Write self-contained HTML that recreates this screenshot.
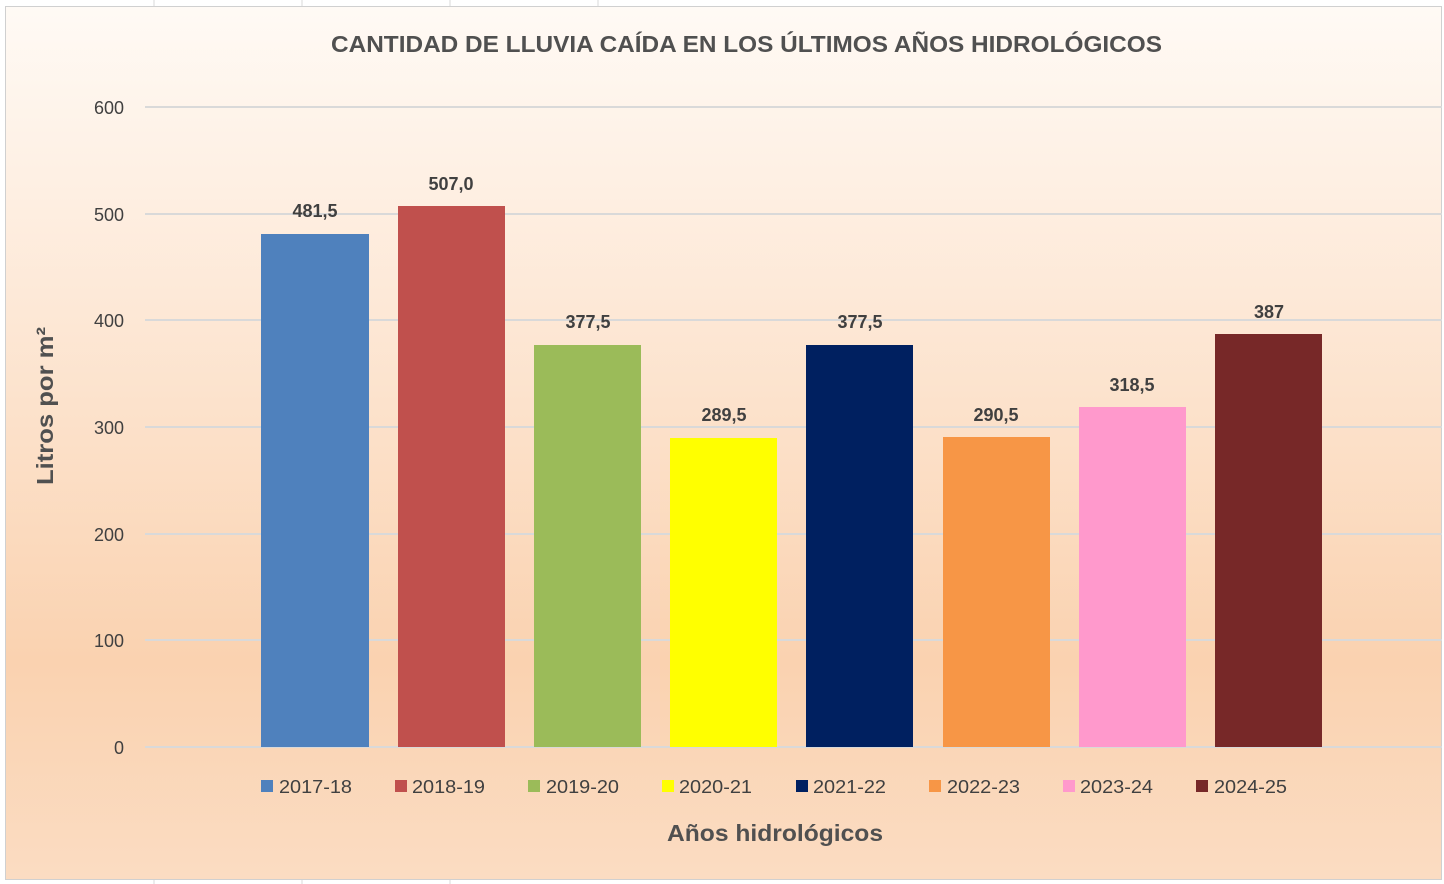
<!DOCTYPE html>
<html><head><meta charset="utf-8"><style>
body{margin:0;width:1444px;height:884px;overflow:hidden;background:#fff;font-family:"Liberation Sans",sans-serif}
</style></head><body>
<svg width="1444" height="884" xmlns="http://www.w3.org/2000/svg" style="display:block">
<defs><linearGradient id="g" x1="0" y1="0" x2="0" y2="1">
<stop offset="0" stop-color="#fffaf5"/><stop offset="0.35" stop-color="#fde8d6"/><stop offset="0.75" stop-color="#fad2b0"/><stop offset="1" stop-color="#fbdcc2"/></linearGradient></defs>
<g stroke="#d8d8d8" stroke-width="1">
<line x1="154" y1="0" x2="154" y2="6"/><line x1="302" y1="0" x2="302" y2="6"/><line x1="450" y1="0" x2="450" y2="6"/><line x1="598" y1="0" x2="598" y2="6"/>
<line x1="154" y1="880" x2="154" y2="884"/><line x1="302" y1="880" x2="302" y2="884"/><line x1="450" y1="880" x2="450" y2="884"/>
</g>
<rect x="5.5" y="6.5" width="1436" height="873" fill="url(#g)" stroke="#d0d0d0"/>
<text x="331" y="52" textLength="831" lengthAdjust="spacingAndGlyphs" font-size="23" font-weight="bold" fill="#505050">CANTIDAD DE LLUVIA CAÍDA EN LOS ÚLTIMOS AÑOS HIDROLÓGICOS</text>
<g stroke="#d9d9d9" stroke-width="2">
<line x1="145" y1="107" x2="1442" y2="107"/><line x1="145" y1="214" x2="1442" y2="214"/><line x1="145" y1="320" x2="1442" y2="320"/><line x1="145" y1="427" x2="1442" y2="427"/><line x1="145" y1="534" x2="1442" y2="534"/><line x1="145" y1="640" x2="1442" y2="640"/><line x1="145" y1="747" x2="1442" y2="747"/>
</g>
<g font-size="18" fill="#404040" text-anchor="end">
<text x="124" y="114">600</text><text x="124" y="221">500</text><text x="124" y="327">400</text><text x="124" y="434">300</text><text x="124" y="541">200</text><text x="124" y="647">100</text><text x="124" y="754">0</text>
</g>
<text transform="translate(53,485) rotate(-90)" textLength="158" lengthAdjust="spacingAndGlyphs" font-size="23" font-weight="bold" fill="#505050">Litros por m²</text>
<g>
<rect x="261" y="234" width="108" height="513" fill="#4f81bd"/>
<rect x="398" y="206" width="107" height="541" fill="#c0504d"/>
<rect x="534" y="345" width="107" height="402" fill="#9bbb59"/>
<rect x="670" y="438" width="107" height="309" fill="#ffff00"/>
<rect x="806" y="345" width="107" height="402" fill="#002060"/>
<rect x="943" y="437" width="107" height="310" fill="#f79646"/>
<rect x="1079" y="407" width="107" height="340" fill="#ff99cc"/>
<rect x="1215" y="334" width="107" height="413" fill="#772828"/>
</g>
<g font-size="18" font-weight="bold" fill="#404040" text-anchor="middle">
<text x="315" y="217">481,5</text><text x="451" y="190">507,0</text><text x="588" y="328">377,5</text><text x="724" y="421">289,5</text><text x="860" y="328">377,5</text><text x="996" y="421">290,5</text><text x="1132" y="391">318,5</text><text x="1269" y="318">387</text>
</g>
<g font-size="18" fill="#404040">
<rect x="261" y="780" width="12" height="12" fill="#4f81bd"/><text x="279" y="793" textLength="73" lengthAdjust="spacingAndGlyphs">2017-18</text>
<rect x="395" y="780" width="12" height="12" fill="#c0504d"/><text x="412" y="793" textLength="73" lengthAdjust="spacingAndGlyphs">2018-19</text>
<rect x="528" y="780" width="12" height="12" fill="#9bbb59"/><text x="546" y="793" textLength="73" lengthAdjust="spacingAndGlyphs">2019-20</text>
<rect x="662" y="780" width="12" height="12" fill="#ffff00"/><text x="679" y="793" textLength="73" lengthAdjust="spacingAndGlyphs">2020-21</text>
<rect x="796" y="780" width="12" height="12" fill="#002060"/><text x="813" y="793" textLength="73" lengthAdjust="spacingAndGlyphs">2021-22</text>
<rect x="929" y="780" width="12" height="12" fill="#f79646"/><text x="947" y="793" textLength="73" lengthAdjust="spacingAndGlyphs">2022-23</text>
<rect x="1063" y="780" width="12" height="12" fill="#ff99cc"/><text x="1080" y="793" textLength="73" lengthAdjust="spacingAndGlyphs">2023-24</text>
<rect x="1196" y="780" width="12" height="12" fill="#772828"/><text x="1214" y="793" textLength="73" lengthAdjust="spacingAndGlyphs">2024-25</text>
</g>
<text x="667" y="841" textLength="216" lengthAdjust="spacingAndGlyphs" font-size="23" font-weight="bold" fill="#505050">Años hidrológicos</text>
</svg>
</body></html>
